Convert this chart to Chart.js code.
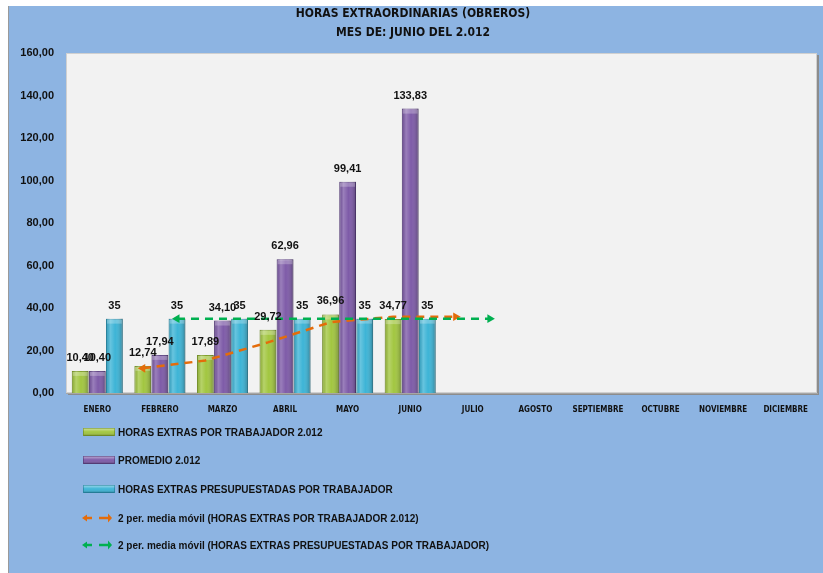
<!DOCTYPE html>
<html>
<head>
<meta charset="utf-8">
<script src="https://cdn.jsdelivr.net/npm/chart.js@4"></script>
<style>
  html, body { margin: 0; padding: 0; background: #fff; }
  body { width: 823px; height: 573px; position: relative; overflow: hidden; }
  #wrap {
    position: absolute; left: 8px; top: 6px; width: 814px; height: 567px;
    background: #8db4e2; border-left: 1px solid #9a9a9a;
  }
  #chart { display: block; }
  #legend { position: absolute; left: 0; top: 0; }
  .item {
    position: absolute; left: 72px; height: 16px; display: flex; align-items: center;
    font: bold 10px "Liberation Sans", Arial, sans-serif; color: #111; white-space: nowrap;
  }
  .item .sym { width: 36px; height: 16px; margin-right: 1px; }
</style>
</head>
<body>
<div id="wrap">
  <canvas id="chart" width="814" height="567"></canvas>
  <div id="legend"></div>
</div>
<script>
const MONTHS = ["ENERO", "FEBRERO", "MARZO", "ABRIL", "MAYO", "JUNIO", "JULIO",
  "AGOSTO", "SEPTIEMBRE", "OCTUBRE", "NOVIEMBRE", "DICIEMBRE"];
const HORAS_TRABAJADOR = [10.40, 12.74, 17.89, 29.72, 36.96, 34.77];
const PROMEDIO = [10.40, 17.94, 34.10, 62.96, 99.41, 133.83];
const PRESUPUESTADAS = [35, 35, 35, 35, 35, 35];
// 2 period moving average trendlines (one step past JUNIO)
const MEDIA_TRABAJADOR = [null, 11.6, 15.3, 23.8, 33.3, 35.9, 35.9];
const MEDIA_PRESUP = [null, 35, 35, 35, 35, 35, 35];
const Y_MIN = 0, Y_MAX = 160, Y_STEP = 20;

const TITLE = ["HORAS EXTRAORDINARIAS (OBREROS)", "MES DE: JUNIO DEL 2.012"];
const LABELS = [
  "HORAS EXTRAS POR TRABAJADOR 2.012",
  "PROMEDIO 2.012",
  "HORAS EXTRAS PRESUPUESTADAS POR TRABAJADOR",
  "2 per. media móvil (HORAS EXTRAS POR TRABAJADOR 2.012)",
  "2 per. media móvil (HORAS EXTRAS PRESUPUESTADAS POR TRABAJADOR)"
];

const CAT_PCT = 0.82;
const COND = "'DejaVu Sans Condensed', 'Liberation Sans Narrow', Arial, sans-serif";

const fmt = v => Number.isInteger(v) ? String(v) : v.toFixed(2).replace(".", ",");

// arrow heads only at both ends of a trendline
function lastIndex(arr) {
  let k = -1;
  arr.forEach((v, i) => { if (v !== null) k = i; });
  return k;
}
function firstIndex(arr) { return arr.findIndex(v => v !== null); }
const endArrow = ctx => {
  const d = ctx.dataset.data;
  return (ctx.dataIndex === firstIndex(d) || ctx.dataIndex === lastIndex(d)) ? 5 : 0;
};
const arrowRot = ctx => ctx.dataIndex === firstIndex(ctx.dataset.data) ? -90 : 90;

// plot area background with a little shadow
const plotBg = {
  id: "plotBg",
  beforeDraw(chart) {
    const { ctx, chartArea: a } = chart;
    ctx.save();
    ctx.fillStyle = "#8c8c8c";
    ctx.fillRect(a.left + 2, a.top + 2, a.right - a.left, a.bottom - a.top);
    ctx.fillStyle = "#f2f2f2";
    ctx.fillRect(a.left, a.top, a.right - a.left, a.bottom - a.top);
    ctx.strokeStyle = "#d0d0d0";
    ctx.lineWidth = 1;
    ctx.strokeRect(a.left + 0.5, a.top + 0.5, a.right - a.left - 1, a.bottom - a.top - 1);
    ctx.restore();
  }
};

// the trendlines sit on the first / last bar of each group, like in Excel
const trendShift = {
  id: "trendShift",
  afterDatasetsUpdate(chart) {
    const bars = chart.data.datasets.map((d, i) => i).filter(i => chart.getDatasetMeta(i).type === "bar");
    chart.data.datasets.forEach((ds, i) => {
      if (ds.followBar === undefined) return;
      const ref = chart.getDatasetMeta(bars[ds.followBar]).data;
      const dx = ref[0].x - chart.scales.x.getPixelForValue(0);
      chart.getDatasetMeta(i).data.forEach((pt, k) => {
        pt.x = chart.scales.x.getPixelForValue(k) + dx;
      });
    });
  }
};

// cylinder shading over each bar
const barShade = {
  id: "barShade",
  afterDatasetDraw(chart, args) {
    const meta = args.meta;
    if (meta.type !== "bar") return;
    const ctx = chart.ctx;
    ctx.save();
    meta.data.forEach(el => {
      const left = el.x - el.width / 2, h = el.base - el.y;
      const g = ctx.createLinearGradient(left, 0, left + el.width, 0);
      g.addColorStop(0, "rgba(0,0,0,0.10)");
      g.addColorStop(0.25, "rgba(255,255,255,0.22)");
      g.addColorStop(0.55, "rgba(255,255,255,0.0)");
      g.addColorStop(1, "rgba(0,0,0,0.28)");
      ctx.fillStyle = g;
      ctx.fillRect(left, el.y, el.width, h);
      ctx.fillStyle = "rgba(255,255,255,0.25)";
      ctx.fillRect(left + 1, el.y + 1, el.width - 2, Math.min(4, h));
    });
    ctx.restore();
  }
};

// value labels above the bars
const valueLabels = {
  id: "valueLabels",
  afterDatasetsDraw(chart) {
    const ctx = chart.ctx;
    ctx.save();
    ctx.font = "bold 11px 'Liberation Sans', Arial, sans-serif";
    ctx.fillStyle = "#111";
    ctx.textAlign = "center";
    ctx.textBaseline = "middle";
    chart.data.datasets.forEach((ds, di) => {
      const meta = chart.getDatasetMeta(di);
      if (meta.type !== "bar") return;
      meta.data.forEach((el, i) => {
        ctx.fillText(fmt(ds.data[i]), el.x, el.y - 13);
      });
    });
    ctx.restore();
  }
};

const chart = new Chart(document.getElementById("chart"), {
  type: "bar",
  data: {
    labels: MONTHS,
    datasets: [
      { label: LABELS[0], data: HORAS_TRABAJADOR, order: 2, backgroundColor: "#a2c640", borderColor: "#7f9e2a", borderWidth: 1 },
      { label: LABELS[1], data: PROMEDIO, order: 2, backgroundColor: "#7e5ba8", borderColor: "#5f4385", borderWidth: 1 },
      { label: LABELS[2], data: PRESUPUESTADAS, order: 2, backgroundColor: "#3db4d6", borderColor: "#2a8eab", borderWidth: 1 },
      {
        type: "line", label: LABELS[3], data: MEDIA_TRABAJADOR, followBar: 0, order: 1,
        borderColor: "#e46c0a", backgroundColor: "#e46c0a", borderWidth: 2.5, borderDash: [8, 6],
        pointStyle: "triangle", pointRadius: endArrow, pointRotation: arrowRot, pointBorderWidth: 0,
        spanGaps: false, tension: 0
      },
      {
        type: "line", label: LABELS[4], data: MEDIA_PRESUP, followBar: 2, order: 0,
        borderColor: "#00b050", backgroundColor: "#00b050", borderWidth: 2.5, borderDash: [8, 6],
        pointStyle: "triangle", pointRadius: endArrow, pointRotation: arrowRot, pointBorderWidth: 0,
        spanGaps: false, tension: 0
      }
    ]
  },
  options: {
    responsive: false,
    animation: false,
    layout: { padding: { left: 0, right: 6, top: 0, bottom: 150 } },
    datasets: { bar: { categoryPercentage: CAT_PCT, barPercentage: 0.98 } },
    plugins: {
      legend: { display: false },
      tooltip: { enabled: false },
      title: {
        display: true, text: TITLE, color: "#111",
        font: { family: COND, size: 12, weight: "bold", lineHeight: "19px" },
        padding: { top: -2, bottom: 11 }
      }
    },
    scales: {
      x: {
        grid: { display: false, drawTicks: false },
        border: { color: "#a6a6a6" },
        ticks: {
          color: "#111", padding: 12, maxRotation: 0, autoSkip: false,
          font: { family: COND, size: 8, weight: "bold" }
        },
        afterFit: s => { s.height = 30; }
      },
      y: {
        min: Y_MIN, max: Y_MAX,
        grid: { display: false, drawTicks: false },
        border: { display: false },
        ticks: {
          stepSize: Y_STEP, color: "#111", padding: 12,
          font: { family: "'Liberation Sans', Arial, sans-serif", size: 11, weight: "bold" },
          callback: v => v.toFixed(2).replace(".", ",")
        },
        afterFit: s => { s.width = 57; }
      }
    }
  },
  plugins: [plotBg, trendShift, barShade, valueLabels]
});

// legend: one entry per row, under the plot
const legendEl = document.getElementById("legend");
const LEGEND_TOP = [426, 454, 483, 512, 539];
chart.data.datasets.forEach((ds, i) => {
  const row = document.createElement("div");
  row.className = "item";
  row.style.top = LEGEND_TOP[i] - 8 + "px";
  let sym;
  if (ds.type === "line") {
    const c = ds.borderColor;
    sym = `<svg class="sym" viewBox="0 0 36 16">
      <polygon points="1,8 6,4.5 6,11.5" fill="${c}"/>
      <line x1="6" y1="8" x2="11" y2="8" stroke="${c}" stroke-width="2.5"/>
      <line x1="18" y1="8" x2="27" y2="8" stroke="${c}" stroke-width="2.5"/>
      <polygon points="31,8 27,3.5 27,12.5" fill="${c}"/>
    </svg>`;
  } else {
    sym = `<svg class="sym" viewBox="0 0 36 16">
      <defs><linearGradient id="g${i}" x1="0" y1="0" x2="0" y2="1">
        <stop offset="0" stop-color="#fff" stop-opacity="0.45"/>
        <stop offset="0.5" stop-color="#fff" stop-opacity="0"/>
        <stop offset="1" stop-color="#000" stop-opacity="0.25"/>
      </linearGradient></defs>
      <rect x="2.5" y="4.5" width="31" height="7" fill="${ds.backgroundColor}" stroke="${ds.borderColor}"/>
      <rect x="2.5" y="4.5" width="31" height="7" fill="url(#g${i})"/>
    </svg>`;
  }
  row.innerHTML = sym + "<span>" + ds.label + "</span>";
  legendEl.appendChild(row);
});
</script>
</body>
</html>
